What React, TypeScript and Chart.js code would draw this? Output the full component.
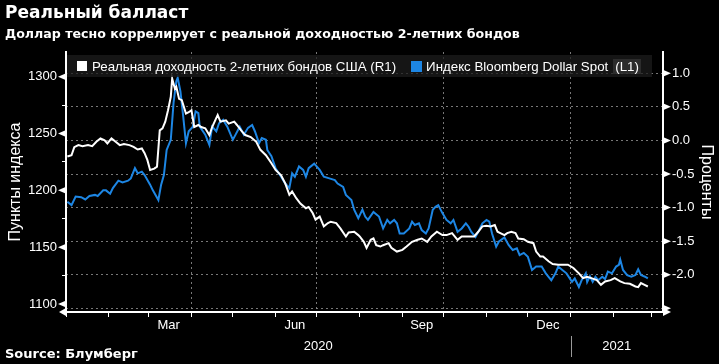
import React, { useEffect, useRef } from 'react';
import { Chart, registerables } from 'chart.js';

Chart.register(...registerables);

// x values are days since 2020-01-01
const usdDays = [1, 4, 7, 11, 14, 17, 21, 23, 27, 29, 32, 34, 38, 41, 45, 47, 50, 52, 55, 57, 61, 63, 67, 69, 71, 73, 76, 78, 80, 81, 83, 85, 87, 89, 92, 94, 96, 97, 101, 104, 106, 109, 111, 114, 117, 121, 123, 126, 129, 132, 135, 137, 140, 142, 145, 146, 149, 152, 156, 159, 162, 164, 166, 169, 172, 174, 176, 180, 184, 187, 191, 195, 197, 201, 203, 207, 209, 212, 215, 217, 219, 223, 227, 230, 233, 235, 238, 240, 242, 245, 249, 251, 253, 256, 258, 261, 263, 266, 268, 270, 273, 276, 279, 281, 284, 287, 290, 292, 294, 297, 299, 302, 305, 307, 309, 312, 314, 318, 321, 324, 327, 329, 332, 335, 338, 341, 345, 348, 350, 352, 355, 357, 360, 363, 367, 369, 372, 374, 377, 378, 380, 382, 384, 386, 389, 391, 393, 396, 399, 401, 402, 404, 407, 410, 413, 415, 417, 420, 422];
const usdValues = [1190, 1187, 1194.5, 1194, 1192, 1195, 1196, 1195, 1200, 1200, 1197, 1202, 1208.5, 1207, 1208.5, 1210.5, 1219.5, 1215, 1216.5, 1213.5, 1205, 1200, 1191.5, 1205, 1213.5, 1235.5, 1244.5, 1277, 1296, 1299, 1287, 1265, 1241.5, 1252, 1256, 1269.5, 1268, 1256, 1249, 1240, 1256, 1252, 1259, 1262, 1256, 1244.5, 1249, 1256, 1249, 1255, 1257.5, 1252, 1241.5, 1246, 1244.5, 1235.5, 1230, 1219.5, 1212, 1206, 1202, 1215, 1212, 1221, 1218, 1212, 1219.5, 1223.5, 1218, 1212, 1210.5, 1209, 1206, 1203, 1196, 1191.5, 1183, 1175.5, 1183, 1177, 1174, 1181, 1177, 1166.5, 1174, 1171, 1174, 1171, 1162, 1162, 1166.5, 1172.5, 1169.5, 1171, 1165, 1162, 1166.5, 1183, 1185.5, 1187, 1180, 1174, 1171, 1174, 1163.5, 1166.5, 1171, 1168, 1163.5, 1159, 1163.5, 1171, 1174, 1172.5, 1162, 1150.5, 1155, 1158.5, 1152, 1147.5, 1149, 1143, 1145, 1141.5, 1130, 1133, 1133, 1127, 1124, 1121, 1127, 1133, 1130, 1127, 1119.5, 1122.5, 1115, 1121, 1127, 1119.5, 1124.5, 1119.5, 1124, 1121, 1124, 1122, 1128.5, 1127, 1133, 1134.5, 1139, 1130, 1125.5, 1124, 1125.5, 1130.5, 1125.5, 1124, 1122.5];

const yieldDays = [1, 4, 6, 9, 12, 16, 19, 22, 25, 28, 30, 33, 36, 39, 42, 46, 49, 52, 55, 57, 59, 61, 64, 66, 68, 70, 72, 74, 76, 77, 79, 80, 82, 84, 87, 89, 91, 93, 96, 98, 101, 104, 106, 110, 112, 116, 118, 122, 124, 127, 130, 134, 138, 141, 145, 149, 152, 156, 159, 162, 164, 167, 170, 174, 176, 179, 181, 184, 187, 190, 192, 196, 199, 203, 205, 209, 212, 213, 216, 218, 221, 223, 225, 228, 230, 234, 236, 240, 244, 247, 251, 255, 258, 262, 265, 269, 273, 276, 280, 284, 287, 292, 296, 299, 302, 305, 308, 311, 313, 315, 318, 320, 323, 326, 328, 332, 335, 339, 341, 344, 346, 350, 353, 357, 361, 364, 368, 372, 375, 378, 381, 385, 388, 391, 395, 398, 402, 405, 409, 413, 415, 417, 420, 422];
const yieldValues = [-0.24, -0.22, -0.1, -0.07, -0.085, -0.07, -0.085, -0.02, 0.03, 0.0, -0.045, 0.03, -0.02, -0.07, -0.055, -0.07, -0.095, -0.135, -0.12, -0.19, -0.29, -0.44, -0.42, -0.39, 0.15, 0.18, 0.28, 0.45, 0.65, 0.92, 0.77, 0.8, 0.62, 0.6, 0.4, 0.42, 0.45, 0.2, 0.23, 0.2, 0.18, 0.08, 0.2, 0.38, 0.28, 0.3, 0.25, 0.28, 0.23, 0.15, 0.08, 0.05, -0.02, -0.14, -0.22, -0.34, -0.44, -0.52, -0.64, -0.81, -0.76, -0.86, -0.94, -1.01, -0.99, -1.085, -1.18, -1.135, -1.28, -1.23, -1.21, -1.23, -1.31, -1.43, -1.37, -1.36, -1.41, -1.43, -1.51, -1.6, -1.48, -1.46, -1.56, -1.58, -1.56, -1.53, -1.6, -1.655, -1.63, -1.58, -1.51, -1.48, -1.46, -1.51, -1.43, -1.36, -1.41, -1.41, -1.38, -1.48, -1.43, -1.43, -1.43, -1.36, -1.28, -1.27, -1.28, -1.26, -1.36, -1.38, -1.41, -1.38, -1.36, -1.38, -1.46, -1.47, -1.51, -1.53, -1.655, -1.73, -1.73, -1.8, -1.84, -1.85, -1.85, -1.85, -1.9, -1.98, -2.05, -2.03, -2.05, -2.08, -2.15, -2.1, -2.08, -2.05, -2.1, -2.125, -2.135, -2.175, -2.185, -2.125, -2.155, -2.175];

const monthStartDays = [0, 31, 60, 91, 121, 152, 182, 213, 244, 274, 305, 335, 366, 397, 425];
const quarterStartDays = [91, 182, 274, 366];
const monthLabels = ['Mar', 'Jun', 'Sep', 'Dec'];
const monthLabelDays = [74.5, 166, 258, 349.5];
const yearLabels = ['2020', '2021'];
const yearLabelDays = [183, 399.5];
const yearBoundaryDay = 366;

const leftTicks = [1100, 1125, 1150, 1175, 1200, 1225, 1250, 1275, 1300];
const leftLabeled = [1100, 1150, 1200, 1250, 1300];
const rightTicks = [-2.5, -2.25, -2, -1.75, -1.5, -1.25, -1, -0.75, -0.5, -0.25, 0, 0.25, 0.5, 0.75, 1];
const rightMajor = [-2.5, -2, -1.5, -1, -0.5, 0, 0.5, 1];
const rightLabeled = [-2, -1.5, -1, -0.5, 0, 0.5, 1];

const BLUE = '#1d86e4';
const GRID = 'rgba(140,140,140,0.85)';
const TICK_FONT = { family: 'Liberation Sans', size: 13 };

const isIn = (arr: number[], v: number) => arr.some((a) => Math.abs(a - v) < 1e-6);

const decorPlugin = {
  id: 'decor',
  afterDraw(chart: any) {
    const { ctx, chartArea } = chart;
    const { left, right, bottom } = chartArea;
    const yL = chart.scales.y;
    const yR = chart.scales.y1;
    const x = chart.scales.x;
    ctx.save();
    ctx.fillStyle = '#ffffff';
    const tri = (ax: number, ay: number, bx: number, h: number) => {
      ctx.beginPath();
      ctx.moveTo(ax, ay);
      ctx.lineTo(bx, ay - h);
      ctx.lineTo(bx, ay + h);
      ctx.closePath();
      ctx.fill();
    };
    leftLabeled.forEach((v) => {
      const py = yL.getPixelForValue(v);
      tri(left - 8, py, left - 1, 3);
    });
    rightMajor.forEach((v) => {
      const py = yR.getPixelForValue(v);
      tri(right + 8, py, right + 1, 3);
    });
    // axis end arrows
    tri(left - 7, bottom, left, 4);
    tri(right + 8, bottom, right, 4);
    // year separator
    const sx = Math.round(x.getPixelForValue(yearBoundaryDay)) + 0.5;
    ctx.strokeStyle = '#9a9a9a';
    ctx.lineWidth = 1;
    ctx.beginPath();
    ctx.moveTo(sx, 336);
    ctx.lineTo(sx, 357);
    ctx.stroke();
    ctx.restore();
  },
};

export default function App() {
  const ref = useRef<HTMLCanvasElement | null>(null);

  useEffect(() => {
    if (!ref.current) return;
    const chart = new Chart(ref.current, {
      type: 'line',
      data: {
        datasets: [
          {
            label: 'Реальная доходность 2-летних бондов США (R1)',
            data: yieldDays.map((d, i) => ({ x: d, y: yieldValues[i] })),
            borderColor: '#ffffff',
            borderWidth: 2,
            pointRadius: 0,
            yAxisID: 'y1',
            xAxisID: 'x',
          },
          {
            label: 'Индекс Bloomberg Dollar Spot (L1)',
            data: usdDays.map((d, i) => ({ x: d, y: usdValues[i] })),
            borderColor: BLUE,
            borderWidth: 2,
            pointRadius: 0,
            yAxisID: 'y',
            xAxisID: 'x',
          },
        ],
      },
      options: {
        responsive: false,
        animation: false,
        events: [],
        layout: { padding: { top: 52, bottom: 6, left: 0, right: 0 } },
        plugins: { legend: { display: false }, tooltip: { enabled: false }, title: { display: false } },
        scales: {
          x: {
            type: 'linear',
            position: 'bottom',
            weight: 0,
            min: 0,
            max: 433,
            afterBuildTicks: (s: any) => { s.ticks = monthStartDays.map((v) => ({ value: v })); },
            afterFit: (s: any) => { s.height = 6; },
            ticks: { display: false, autoSkip: false, maxRotation: 0 },
            grid: {
              drawOnChartArea: true,
              drawTicks: true,
              tickLength: 5,
              color: (c: any) => (c.tick && isIn(quarterStartDays, c.tick.value) ? GRID : 'rgba(0,0,0,0)'),
              tickColor: '#ffffff',
              lineWidth: 1,
            },
            border: { display: true, color: '#ffffff', width: 2, dash: [2, 3] },
          },
          xm: {
            type: 'linear',
            position: 'bottom',
            weight: 1,
            min: 0,
            max: 433,
            afterBuildTicks: (s: any) => { s.ticks = monthLabelDays.map((v) => ({ value: v })); },
            afterFit: (s: any) => { s.height = 18; },
            ticks: {
              autoSkip: false,
              maxRotation: 0,
              padding: 0,
              color: '#ffffff',
              font: TICK_FONT,
              callback: (_v: any, i: number) => monthLabels[i],
            },
            grid: { display: false, drawTicks: false },
            border: { display: false },
          },
          xy: {
            type: 'linear',
            position: 'bottom',
            weight: 2,
            min: 0,
            max: 433,
            afterBuildTicks: (s: any) => { s.ticks = yearLabelDays.map((v) => ({ value: v })); },
            afterFit: (s: any) => { s.height = 22; },
            ticks: {
              autoSkip: false,
              maxRotation: 0,
              padding: 3,
              color: '#ffffff',
              font: TICK_FONT,
              callback: (_v: any, i: number) => yearLabels[i],
            },
            grid: { display: false, drawTicks: false },
            border: { display: false },
          },
          y: {
            type: 'linear',
            position: 'left',
            min: 1093,
            max: 1321.7,
            afterBuildTicks: (s: any) => { s.ticks = leftTicks.map((v) => ({ value: v })); },
            afterFit: (s: any) => { s.width = 66; },
            ticks: {
              padding: 5,
              color: '#ffffff',
              font: TICK_FONT,
              callback: (v: any) => (isIn(leftLabeled, v) ? String(v) : ''),
            },
            grid: {
              drawOnChartArea: false,
              drawTicks: true,
              tickLength: 4,
              tickColor: (c: any) => (c.tick && isIn(leftLabeled, c.tick.value) ? 'rgba(0,0,0,0)' : '#ffffff'),
            },
            border: { display: true, color: '#ffffff', width: 2 },
            title: {
              display: true,
              text: 'Пункты индекса',
              color: '#ffffff',
              font: { family: 'Liberation Sans', size: 16 },
              padding: { top: 6, bottom: 0 },
            },
          },
          y1: {
            type: 'linear',
            position: 'right',
            min: -2.555,
            max: 1.317,
            afterBuildTicks: (s: any) => { s.ticks = rightTicks.map((v) => ({ value: v })); },
            afterFit: (s: any) => { s.width = 56; },
            ticks: {
              padding: 5,
              color: '#ffffff',
              font: TICK_FONT,
              callback: (v: any) => (isIn(rightLabeled, v) ? Number(v).toFixed(1) : ''),
            },
            grid: {
              drawOnChartArea: true,
              drawTicks: true,
              tickLength: 4,
              color: (c: any) => (c.tick && isIn(rightMajor, c.tick.value) ? GRID : 'rgba(0,0,0,0)'),
              tickColor: (c: any) => (c.tick && isIn(rightMajor, c.tick.value) ? 'rgba(0,0,0,0)' : '#ffffff'),
            },
            border: { display: true, color: '#ffffff', width: 2, dash: [2, 3] },
            title: {
              display: true,
              text: 'Проценты',
              color: '#ffffff',
              font: { family: 'Liberation Sans', size: 16 },
              padding: { top: 3, bottom: 0 },
            },
          },
        },
      },
      plugins: [decorPlugin],
    } as any);
    return () => chart.destroy();
  }, []);

  const legendText: React.CSSProperties = { color: '#ffffff', font: '13.3px "Liberation Sans"', whiteSpace: 'nowrap' };

  return (
    <div style={{ position: 'fixed', left: 0, top: 0, width: 719, height: 364, background: '#000000', overflow: 'hidden' }}>
      <canvas ref={ref} width={719} height={364} style={{ display: 'block', position: 'absolute', left: 0, top: 0 }} />
      <div style={{ position: 'absolute', left: 5, top: 2, color: '#ffffff', font: 'bold 17px "DejaVu Sans"', whiteSpace: 'nowrap' }}>
        Реальный балласт
      </div>
      <div style={{ position: 'absolute', left: 5, top: 26, color: '#ffffff', font: 'bold 12.6px "DejaVu Sans"', whiteSpace: 'nowrap' }}>
        Доллар тесно коррелирует с реальной доходностью 2-летних бондов
      </div>
      <div style={{ position: 'absolute', left: 5, top: 346, color: '#ffffff', font: 'bold 13px "DejaVu Sans"', whiteSpace: 'nowrap' }}>
        Source: Блумберг
      </div>
      <div
        style={{
          position: 'absolute', left: 67, top: 55, width: 585, height: 22,
          background: 'rgba(28,28,28,0.75)', display: 'flex', alignItems: 'center',
        }}
      >
        <span style={{ display: 'inline-block', width: 10, height: 10, background: '#ffffff', marginLeft: 10, marginRight: 5 }} />
        <span style={legendText}>Реальная доходность 2-летних бондов США (R1)</span>
        <span style={{ display: 'inline-block', width: 11, height: 11, background: BLUE, marginLeft: 15, marginRight: 4 }} />
        <span style={legendText}>Индекс Bloomberg Dollar Spot</span>
        <span style={{ ...legendText, marginLeft: 5, padding: '0 2px', background: 'rgba(60,60,60,0.6)' }}>(L1)</span>
      </div>
    </div>
  );
}
